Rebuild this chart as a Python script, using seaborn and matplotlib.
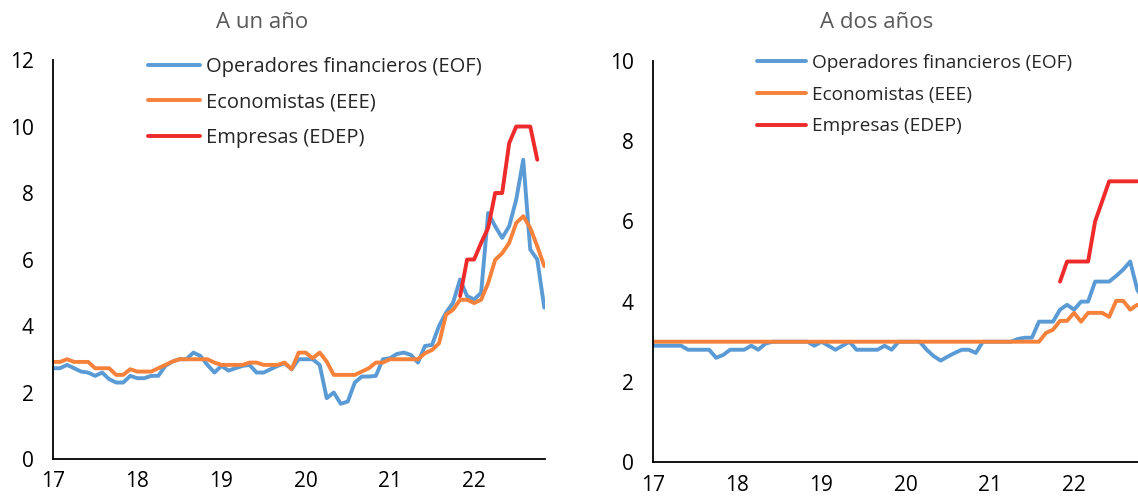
import numpy as np
import pandas as pd
import matplotlib
matplotlib.use('Agg')
import matplotlib.pyplot as plt
import seaborn as sns

# monthly, Jan 2017 .. Nov 2022
months = 17 + np.arange(71) / 12

# A un año
eof_1 = [2.73, 2.73, 2.83, 2.73, 2.63, 2.60, 2.50, 2.60, 2.40, 2.30, 2.30, 2.50,
         2.43, 2.43, 2.50, 2.50, 2.80, 2.93, 3.00, 3.00, 3.20, 3.10, 2.83, 2.60,
         2.80, 2.66, 2.73, 2.80, 2.83, 2.60, 2.60, 2.70, 2.80, 2.88, 2.70, 3.00,
         3.00, 3.00, 2.83, 1.83, 2.00, 1.66, 1.73, 2.30, 2.48, 2.48, 2.50, 3.00,
         3.03, 3.16, 3.20, 3.13, 2.90, 3.40, 3.43, 4.00, 4.40, 4.70, 5.40, 4.90,
         4.80, 5.00, 7.40, 7.00, 6.65, 7.00, 7.80, 9.00, 6.30, 6.00, 4.55]
eee_1 = [2.92, 2.92, 3.00, 2.92, 2.92, 2.92, 2.73, 2.73, 2.73, 2.53, 2.53, 2.70,
         2.63, 2.63, 2.63, 2.73, 2.83, 2.93, 3.00, 3.00, 3.00, 3.00, 3.00, 2.90,
         2.83, 2.83, 2.83, 2.83, 2.90, 2.90, 2.83, 2.83, 2.83, 2.90, 2.70, 3.20,
         3.20, 3.03, 3.20, 2.93, 2.53, 2.53, 2.53, 2.53, 2.63, 2.73, 2.90, 2.90,
         3.00, 3.00, 3.00, 3.00, 3.00, 3.18, 3.28, 3.48, 4.34, 4.49, 4.79, 4.79,
         4.69, 4.79, 5.29, 5.99, 6.19, 6.50, 7.10, 7.30, 6.95, 6.40, 5.80]
edep_1 = [np.nan] * 58 + [4.9, 6.0, 6.0, 6.5, 6.95, 8.0, 8.0, 9.5, 10.0, 10.0, 10.0, 9.0, np.nan]

# A dos años
eof_2 = [2.9, 2.9, 2.9, 2.9, 2.9, 2.8, 2.8, 2.8, 2.8, 2.6, 2.67, 2.8,
         2.8, 2.8, 2.9, 2.8, 2.95, 3.0, 3.0, 3.0, 3.0, 3.0, 3.0, 2.9,
         3.0, 2.9, 2.8, 2.9, 3.0, 2.8, 2.8, 2.8, 2.8, 2.9, 2.8, 3.0,
         3.0, 3.0, 3.0, 2.8, 2.64, 2.53, 2.63, 2.72, 2.8, 2.8, 2.72, 3.0,
         3.0, 3.0, 3.0, 3.0, 3.07, 3.1, 3.1, 3.5, 3.5, 3.5, 3.8, 3.92,
         3.8, 4.0, 4.0, 4.5, 4.5, 4.5, 4.64, 4.8, 5.0, 4.3, 4.0]
eee_2 = [3.0] * 56 + [3.22, 3.3, 3.52, 3.52, 3.72, 3.5, 3.72, 3.72, 3.72,
                      3.62, 4.02, 4.02, 3.8, 3.92, 3.9]
edep_2 = [np.nan] * 58 + [4.5, 5.0, 5.0, 5.0, 5.0, 6.0, 6.5, 7.0, 7.0, 7.0, 7.0, 7.0, np.nan]

labels = ['Operadores financieros (EOF)', 'Economistas (EEE)', 'Empresas (EDEP)']
colors = ['#5B9BD5', '#F5813A', '#EE2A2A']
year_ticks = [17, 18, 19, 20, 21, 22]
year_labels = ['17', '18', '19', '20', '21', '22']

sns.set_style('white')
plt.rcParams['font.family'] = ['Open Sans', 'DejaVu Sans']


def make_df(series):
    frames = []
    for lab, vals in zip(labels, series):
        frames.append(pd.DataFrame({'fecha': months, 'valor': vals, 'serie': lab}))
    return pd.concat(frames, ignore_index=True).dropna()


fig = plt.figure(figsize=(11.38, 4.96), dpi=100)
ax1 = fig.add_axes([0.0466, 0.0746, 0.4323, 0.8044])
ax2 = fig.add_axes([0.5738, 0.0685, 0.4323, 0.8085])

panels = [(ax1, [eof_1, eee_1, edep_1], 12, (0.130, 0.885), 0.76, 14.5),
          (ax2, [eof_2, eee_2, edep_2], 10, (0.665, 0.891), 0.72, 13.7)]

for ax, series, ymax, anchor, spacing, fsize in panels:
    df = make_df(series)
    sns.lineplot(data=df, x='fecha', y='valor', hue='serie', hue_order=labels,
                 palette=colors, linewidth=2.8, ax=ax, legend=False)
    ax.set_xlim(17, 17 + 70.1 / 12)
    ax.set_ylim(0, ymax)
    ax.set_yticks(range(0, ymax + 1, 2))
    ax.set_xticks(year_ticks)
    ax.set_xticklabels(year_labels)
    ax.set_xlabel('')
    ax.set_ylabel('')
    for s in ['top', 'right']:
        ax.spines[s].set_visible(False)
    for s in ['left', 'bottom']:
        ax.spines[s].set_color('black')
        ax.spines[s].set_linewidth(1.3)
    ax.tick_params(axis='both', which='major', labelsize=15, colors='black',
                   length=5, width=1.3, direction='out')
    ax.tick_params(axis='y', pad=9)
    ax.tick_params(axis='x', pad=4)
    handles = [plt.Line2D([], [], color=c, linewidth=2.8) for c in colors]
    ax.legend(handles, labels, loc='upper left', bbox_to_anchor=anchor,
              bbox_transform=fig.transFigure, frameon=False, fontsize=fsize,
              handlelength=2.6, handletextpad=0.3, labelspacing=spacing, borderpad=0,
              borderaxespad=0)

fig.text(262 / 1138, 1 - 22 / 496, 'A un año', ha='center', va='center', fontsize=16, color='#595959')
fig.text(877 / 1138, 1 - 22 / 496, 'A dos años', ha='center', va='center', fontsize=16, color='#595959')

fig.savefig('out.png', dpi=100)
